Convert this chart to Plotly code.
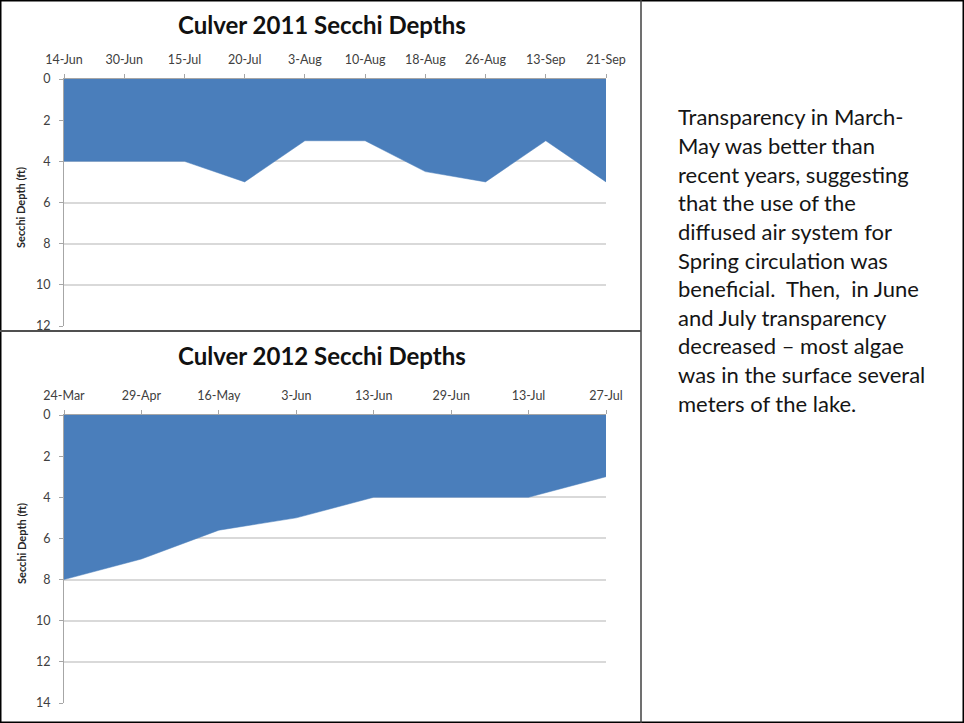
import plotly.graph_objects as go

# ---------------- data ----------------
dates_2011 = ["14-Jun", "30-Jun", "15-Jul", "20-Jul", "3-Aug", "10-Aug",
              "18-Aug", "26-Aug", "13-Sep", "21-Sep"]
depth_2011 = [4, 4, 4, 5, 3, 3, 4.5, 5, 3, 5]

dates_2012 = ["24-Mar", "29-Apr", "16-May", "3-Jun", "13-Jun", "29-Jun",
              "13-Jul", "27-Jul"]
depth_2012 = [8, 7, 5.6, 5, 4, 4, 4, 3]

yticks_2011 = [0, 2, 4, 6, 8, 10, 12]
yticks_2012 = [0, 2, 4, 6, 8, 10, 12, 14]

title_2011 = "Culver 2011 Secchi Depths"
title_2012 = "Culver 2012 Secchi Depths"
y_title = "Secchi Depth (ft)"

note_lines = [
    "Transparency in March-",
    "May was better than",
    "recent years, suggesting",
    "that the use of the",
    "diffused air system for",
    "Spring circulation was",
    "beneficial.  Then,  in June",
    "and July transparency",
    "decreased \u2013 most algae",
    "was in the surface several",
    "meters of the lake.",
]

# ---------------- styling ----------------
W, H = 964, 723
BLUE = "#4A7EBB"
GRID = "#D9D9D9"
AXIS = "#A6A6A6"
TICKC = "#404040"
FONT = "Lato"


def px(x):
    return x / W


def py(y):
    return 1 - y / H


fig = go.Figure()
fig.add_trace(go.Scatter(x=dates_2011, y=depth_2011, mode="lines", fill="tozeroy",
                         fillcolor=BLUE, line=dict(color=BLUE, width=0.5),
                         xaxis="x", yaxis="y", showlegend=False, hoverinfo="x+y"))
fig.add_trace(go.Scatter(x=dates_2012, y=depth_2012, mode="lines", fill="tozeroy",
                         fillcolor=BLUE, line=dict(color=BLUE, width=0.5),
                         xaxis="x2", yaxis="y2", showlegend=False, hoverinfo="x+y"))

xcommon = dict(type="category", side="top", showgrid=False, showline=True,
               linecolor=AXIS, linewidth=1, ticks="outside", ticklen=4,
               tickcolor=AXIS, tickfont=dict(family=FONT, size=12.5, color=TICKC),
               ticklabelstandoff=5, zeroline=False, fixedrange=True,
               automargin=False)
ycommon = dict(showgrid=True, gridcolor=GRID, gridwidth=1.5, showline=True,
               linecolor=AXIS, linewidth=1, ticks="outside", ticklen=4,
               tickcolor=AXIS, tickfont=dict(family=FONT, size=12.5, color=TICKC),
               ticklabelstandoff=6, zeroline=False, fixedrange=True,
               automargin=False)

fig.update_layout(
    width=W, height=H, autosize=False,
    margin=dict(l=0, r=0, t=0, b=0, pad=0, autoexpand=False),
    paper_bgcolor="white", plot_bgcolor="white",
    xaxis=dict(xcommon, domain=[px(64), px(606)], anchor="y",
               range=[0, len(dates_2011) - 1]),
    yaxis=dict(ycommon, domain=[py(326), py(79)], anchor="x",
               range=[yticks_2011[-1], 0], tickvals=yticks_2011),
    xaxis2=dict(xcommon, domain=[px(64), px(606)], anchor="y2",
                range=[0, len(dates_2012) - 1]),
    yaxis2=dict(ycommon, domain=[py(703), py(415)], anchor="x2",
                range=[yticks_2012[-1], 0], tickvals=yticks_2012),
)

annotations = [
    dict(text=title_2011, x=px(322), y=py(25), xref="paper", yref="paper",
         showarrow=False, xanchor="center", yanchor="middle",
         font=dict(family=FONT, size=24, color="#111111", weight="bold")),
    dict(text=title_2012, x=px(322), y=py(355), xref="paper", yref="paper",
         showarrow=False, xanchor="center", yanchor="middle",
         font=dict(family=FONT, size=24, color="#111111", weight="bold")),
    dict(text=y_title, x=px(21), y=py(208), xref="paper", yref="paper",
         showarrow=False, textangle=-90, xanchor="center", yanchor="middle",
         font=dict(family=FONT, size=11, color="#262626", weight="bold")),
    dict(text=y_title, x=px(21), y=py(544), xref="paper", yref="paper",
         showarrow=False, textangle=-90, xanchor="center", yanchor="middle",
         font=dict(family=FONT, size=11, color="#262626", weight="bold")),
]
line0, step = 117, 28.6
for i, ln in enumerate(note_lines):
    annotations.append(dict(text=ln, x=px(676), y=py(line0 + i * step),
                            xref="paper", yref="paper", showarrow=False,
                            xanchor="left", yanchor="middle",
                            font=dict(family=FONT, size=22, color="#151515")))
fig.update_layout(annotations=annotations)

fig.update_layout(shapes=[
    dict(type="rect", xref="paper", yref="paper", x0=0, x1=1, y0=0, y1=1,
         line=dict(color="black", width=3)),
    dict(type="line", xref="paper", yref="paper", x0=px(641), x1=px(641),
         y0=0, y1=1, line=dict(color="#404040", width=1.5)),
    dict(type="line", xref="paper", yref="paper", x0=0, x1=px(641),
         y0=py(331), y1=py(331), line=dict(color="#505050", width=2)),
])

fig.write_html("out.html")
